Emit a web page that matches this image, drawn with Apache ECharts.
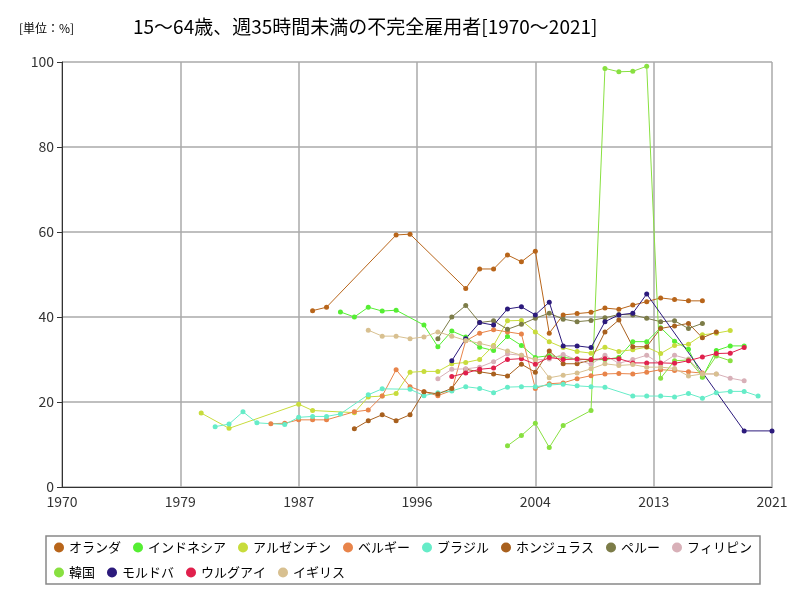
<!DOCTYPE html>
<html><head><meta charset="utf-8">
<script src="https://cdn.jsdelivr.net/npm/echarts@6/dist/echarts.min.js"></script>
<style>body{margin:0;background:#fff}#c{width:800px;height:600px}</style>
</head><body><div id="c"></div>
<script>
// [year, value]
var netherlands = [[1988,41.5],[1989,42.3],[1994,59.3],[1995,59.5],[1999,46.7],[2000,51.3],[2001,51.3],[2002,54.6],[2003,53],[2004,55.5],[2005,36.2],[2006,40.5],[2007,40.8],[2008,41.1],[2009,42.1],[2010,41.8],[2011,42.8],[2012,43.6],[2013,44.5],[2014,44.1],[2015,43.8],[2016,43.8]];
var indonesia = [[1990,41.2],[1991,40],[1992,42.3],[1993,41.4],[1994,41.6],[1996,38.1],[1997,33],[1998,36.7],[1999,35.3],[2000,32.9],[2001,32.1],[2002,35.4],[2003,33.3],[2004,30.5],[2005,30.9],[2006,30.5],[2007,30.1],[2008,29.9],[2009,30],[2010,30.5],[2011,34.2],[2012,34.2],[2013,37.5],[2014,34.3],[2015,32.4],[2016,25.8],[2017,32.1],[2018,33.2],[2019,33.2]];
var argentina = [[1980,17.4],[1982,13.8],[1987,19.5],[1988,18],[1991,17.5],[1992,21.2],[1993,21.4],[1994,22],[1995,27],[1996,27.2],[1997,27.2],[1998,29],[1999,29.3],[2000,30],[2001,33.3],[2002,39.1],[2003,39.2],[2004,36.5],[2005,34.2],[2006,32.8],[2007,31.9],[2008,31.5],[2009,32.9],[2010,31.9],[2011,32.3],[2012,32.9],[2013,31.4],[2014,33.3],[2015,33.6],[2016,35.8],[2017,36.2],[2018,36.8]];
var belgium = [[1985,14.9],[1986,15],[1987,15.8],[1988,15.8],[1989,15.8],[1991,17.7],[1992,18.1],[1993,21.4],[1994,27.6],[1995,23.6],[1996,22.4],[1997,21.5],[1998,22.7],[1999,34.4],[2000,36.2],[2001,37],[2002,36.5],[2003,36],[2004,23.2],[2005,24.3],[2006,24.5],[2007,25.5],[2008,26.2],[2009,26.6],[2010,26.7],[2011,26.6],[2012,27],[2013,27.6],[2014,27.4],[2015,27.1],[2016,26.8]];
var brazil = [[1981,14.2],[1982,14.8],[1983,17.7],[1984,15.1],[1986,14.7],[1987,16.4],[1988,16.6],[1989,16.6],[1990,17.2],[1992,21.7],[1993,23.1],[1995,23],[1996,21.5],[1997,22.2],[1998,22.6],[1999,23.6],[2000,23.2],[2001,22.2],[2002,23.5],[2003,23.6],[2004,23.6],[2005,24],[2006,24.2],[2007,23.8],[2008,23.6],[2009,23.5],[2011,21.4],[2012,21.4],[2013,21.4],[2014,21.2],[2015,22],[2016,20.9],[2017,22.2],[2018,22.5],[2019,22.5],[2020,21.4]];
var honduras = [[1991,13.7],[1992,15.6],[1993,17],[1994,15.6],[1995,17],[1996,22.4],[1997,21.9],[1998,23.2],[1999,27.7],[2000,27.1],[2001,26.6],[2002,26.1],[2003,28.9],[2004,27],[2005,32],[2006,29],[2007,29],[2008,29.9],[2009,36.5],[2010,39.3],[2011,33],[2012,33],[2013,37.3],[2014,37.9],[2015,38.5],[2016,35.1],[2017,36.5]];
var peru = [[1997,34.9],[1998,40],[1999,42.7],[2000,38.7],[2001,39.1],[2002,37.1],[2003,38.3],[2004,39.7],[2005,40.9],[2006,39.5],[2007,38.9],[2008,39.2],[2009,39.8],[2010,40.6],[2011,40.5],[2012,39.7],[2013,38.9],[2014,39.1],[2015,37.3],[2016,38.5]];
var philippines = [[1997,25.5],[1998,27.7],[1999,27.8],[2000,28.2],[2001,29.5],[2002,31.3],[2003,31],[2004,29.9],[2005,30.1],[2006,31.2],[2007,29.9],[2008,28.9],[2009,31],[2010,29.1],[2011,30],[2012,31],[2013,28.9],[2014,31],[2015,30.1],[2016,26.6],[2017,26.6],[2018,25.6],[2019,25]];
var korea = [[2002,9.7],[2003,12.1],[2004,15],[2005,9.3],[2006,14.5],[2008,18],[2009,98.5],[2010,97.7],[2011,97.8],[2012,99],[2013,25.6],[2014,29.7],[2015,29.9],[2016,26],[2017,30.8],[2018,29.7]];
var moldova = [[1998,29.7],[1999,34.9],[2000,38.7],[2001,38.1],[2002,41.9],[2003,42.4],[2004,40.5],[2005,43.5],[2006,33.2],[2007,33.2],[2008,32.8],[2009,38.9],[2010,40.5],[2011,40.9],[2012,45.4],[2019,13.2],[2021,13.2]];
var uruguay = [[1998,26],[1999,26.8],[2000,27.7],[2001,28],[2002,30],[2003,30.2],[2004,28.9],[2005,30.5],[2006,30],[2007,30.1],[2008,30],[2009,30.2],[2010,30.2],[2011,29.2],[2012,29.2],[2013,29.2],[2014,29.1],[2015,29.7],[2016,30.6],[2017,31.4],[2018,31.5],[2019,32.8]];
var uk = [[1992,36.9],[1993,35.5],[1994,35.5],[1995,34.9],[1996,35.3],[1997,36.5],[1998,35.5],[1999,34.5],[2000,33.8],[2001,33],[2002,32],[2003,31],[2004,30],[2005,25.7],[2006,26.3],[2007,26.8],[2008,27.8],[2009,29],[2010,28.6],[2011,28.8],[2012,28.2],[2013,28.2],[2014,27.9],[2015,26.1],[2016,26.6],[2017,26.6]];

var names = ['オランダ','インドネシア','アルゼンチン','ベルギー','ブラジル','ホンジュラス','ペルー','フィリピン','韓国','モルドバ','ウルグアイ','イギリス'];
var lists = [netherlands,indonesia,argentina,belgium,brazil,honduras,peru,philippines,korea,moldova,uruguay,uk];
var colors = ['#b8651a','#55ee33','#c8dc3c','#e8844a','#66ecc8','#a8601e','#7c7c48','#d8b0b8','#88e040','#2c1a7c','#e0204c','#d8c090'];

var font = '"Noto Sans CJK JP", sans-serif';
var chart = echarts.init(document.getElementById('c'));
chart.setOption({
	animation: false,
	color: colors,
	textStyle: {fontFamily: font},
	title: [
		{text:'[単位：%]',left:14,top:17,textStyle:{fontSize:12,fontWeight:'normal',color:'#000',fontFamily:font}},
		{text:'15～64歳、週35時間未満の不完全雇用者[1970～2021]',left:128,top:12,textStyle:{fontSize:19,fontWeight:'normal',color:'#000',fontFamily:font}}
	],
	grid: {left:62,right:28,top:62,bottom:113},
	xAxis: {
		type:'value', min:0, max:51, interval:8.5,
		axisLine:{lineStyle:{color:'#333'}},
		axisTick:{show:false},
		axisLabel:{fontSize:14,color:'#333',formatter:function(v){return Math.round(v+1970);}},
		splitLine:{lineStyle:{color:'#aaa',width:1.5}}
	},
	yAxis: {
		type:'value', min:0, max:100, interval:20,
		axisLine:{show:true,lineStyle:{color:'#333'}},
		axisLabel:{fontSize:14,color:'#333'},
		splitLine:{lineStyle:{color:'#aaa',width:1.5}}
	},
	legend: {
		left:46, top:536, width:720, itemWidth:10, itemHeight:10, itemGap:12,
		icon:'circle', borderColor:'#888', borderWidth:1.5, padding:[5,8],
		textStyle:{fontSize:13,color:'#000',fontFamily:font}
	},
	series: names.map(function(n,i){
		return {
			name:n, type:'line', symbol:'circle', symbolSize:5,
			lineStyle:{width:1},
			data: lists[i].map(function(p){return [p[0]-1970,p[1]];})
		};
	})
});
</script></body></html>
